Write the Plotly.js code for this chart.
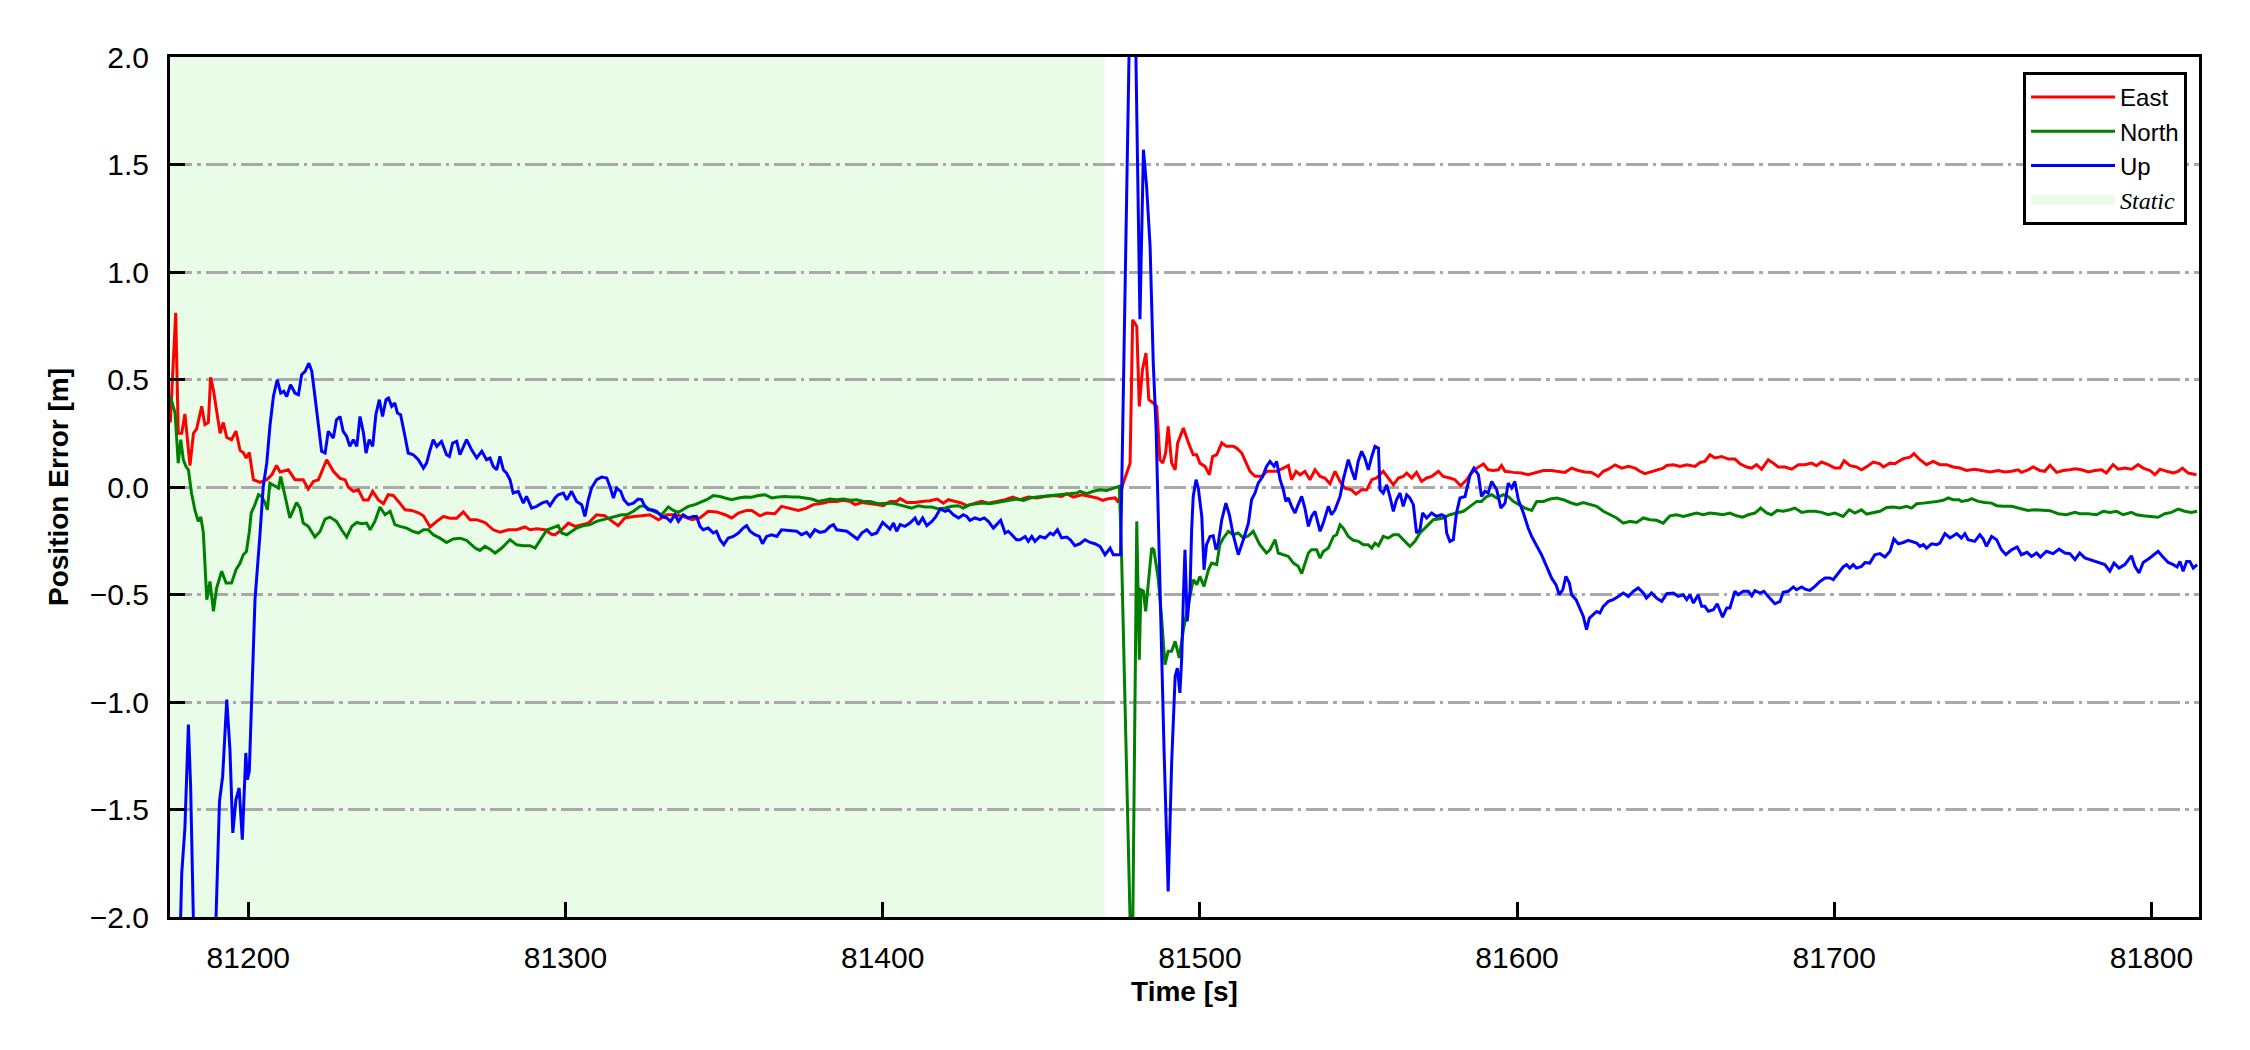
<!DOCTYPE html>
<html>
<head>
<meta charset="utf-8">
<script src="https://cdn.plot.ly/plotly-3.0.1.min.js"></script>
<style>html,body{margin:0;padding:0;background:#fff;}#chart{width:2250px;height:1050px;}</style>
</head>
<body>
<div id="chart"></div>
<script>
// ---------------- data ----------------
const seriesNames = ['East', 'North', 'Up'];
const staticLabel = 'Static';
const staticPeriod = [81170, 81470];

const xTickValues = [81200, 81300, 81400, 81500, 81600, 81700, 81800];
const xTickLabels = ['81200', '81300', '81400', '81500', '81600', '81700', '81800'];
const yTickValues = [-2.0, -1.5, -1.0, -0.5, 0.0, 0.5, 1.0, 1.5, 2.0];
const yTickLabels = ['\u22122.0', '\u22121.5', '\u22121.0', '\u22120.5', '0.0', '0.5', '1.0', '1.5', '2.0'];

const eastTime = [
81175.4, 81177.1, 81177.9, 81179.0, 81180.0, 81181.6, 81182.7, 81183.7, 81185.3, 81186.3,
81187.4, 81188.1, 81189.0, 81190.5, 81191.1, 81192.1, 81193.2, 81194.7, 81196.1, 81197.4,
81198.4, 81199.3, 81200.3, 81201.6, 81203.7, 81205.8, 81207.4, 81208.9, 81210.0, 81212.6,
81214.7, 81217.3, 81218.9, 81220.5, 81222.1, 81224.7, 81226.8, 81228.9, 81230.5, 81231.5,
81233.1, 81234.7, 81236.3, 81237.8, 81239.2, 81241.0, 81242.6, 81244.1, 81245.7, 81247.3,
81249.4, 81251.5, 81253.6, 81255.2, 81257.3, 81259.4, 81261.5, 81263.6, 81265.7, 81267.8,
81269.9, 81272.0, 81274.6, 81277.2, 81279.3, 81282.0, 81284.6, 81287.2, 81288.8, 81290.9,
81293.5, 81295.6,
81296.7, 81298.8, 81300.9, 81303.0, 81305.1, 81307.2, 81309.8, 81312.4, 81314.0, 81316.6,
81318.7, 81321.4, 81324.0, 81326.6, 81329.3, 81331.9, 81334.5, 81337.1, 81339.8, 81342.4,
81345.0, 81347.6, 81350.3, 81352.4, 81354.5, 81357.1, 81358.7, 81361.3, 81363.4, 81366.0,
81368.1, 81370.8, 81373.4, 81376.0, 81378.1, 81381.3,
81383.4, 81385.5, 81387.6, 81389.7, 81391.3, 81393.4, 81395.5, 81398.1, 81400.2, 81402.3,
81404.4, 81405.5, 81407.6, 81410.2, 81412.3, 81414.9, 81417.2, 81419.1, 81420.7, 81422.8,
81424.9, 81426.5, 81428.6, 81431.2, 81433.3, 81435.9, 81438.6, 81441.0, 81443.3, 81445.9,
81448.6, 81451.2, 81453.8, 81456.4, 81458.0, 81460.1, 81462.7, 81465.4, 81467.5, 81469.4,
81470.6, 81473.3, 81474.3,
81475.3, 81478.0, 81478.8, 81480.1, 81480.9, 81481.9, 81483.0, 81483.9, 81485.3, 81486.4,
81487.4, 81488.3, 81489.2, 81490.0, 81491.1, 81492.2, 81493.0, 81494.8, 81496.4, 81497.9,
81499.0, 81500.0, 81501.6, 81503.0, 81504.0, 81505.3, 81506.9, 81508.4, 81510.5, 81511.6,
81513.2, 81514.7, 81515.8, 81517.4, 81519.5, 81521.1,
81524.2, 81526.3, 81527.9, 81528.9, 81530.3, 81531.6, 81533.1, 81534.7, 81536.3, 81537.9,
81539.4, 81541.0, 81542.6, 81544.2, 81545.7, 81547.8, 81549.2, 81551.0, 81552.6, 81554.2,
81555.7, 81557.8, 81559.4, 81561.0, 81562.6, 81564.1, 81565.2, 81566.8, 81568.3, 81569.9,
81571.5, 81573.1, 81575.2, 81576.7, 81578.8, 81580.4, 81582.2, 81584.1, 81585.7, 81587.3,
81589.4, 81590.9, 81592.5, 81594.1, 81595.1, 81596.2, 81598.8, 81601.4, 81603.5, 81606.2,
81608.3, 81610.9, 81613.5, 81615.1, 81617.2, 81619.3, 81621.4, 81623.5, 81625.6, 81627.2,
81628.8, 81630.9, 81633.0, 81635.1, 81637.2, 81638.7, 81640.3, 81641.9, 81644.0, 81646.1,
81647.2, 81649.3, 81651.4, 81653.5,
81656.1, 81657.7, 81659.2, 81660.8, 81662.4, 81664.5, 81666.6, 81668.7, 81670.3, 81672.4,
81674.0, 81675.5, 81677.1, 81679.2, 81680.8, 81682.3, 81684.5, 81686.6, 81688.7, 81690.8,
81692.9, 81694.4, 81696.0, 81698.1, 81700.2, 81701.8, 81703.1, 81705.0, 81707.0, 81708.6,
81710.7, 81712.3, 81714.4, 81715.5, 81717.6, 81719.1, 81720.2, 81721.8, 81723.9, 81725.1,
81727.0, 81729.1, 81731.2, 81733.3,
81735.4, 81737.5, 81739.6, 81741.7, 81744.3, 81746.4, 81749.1, 81751.7, 81753.8, 81755.9,
81758.0, 81759.0, 81761.1, 81762.7, 81764.8, 81766.4, 81768.0, 81770.1, 81772.2, 81774.3,
81775.9, 81778.0, 81780.1, 81782.2, 81784.3, 81785.8, 81787.9, 81789.5, 81791.6, 81793.7,
81795.8, 81797.4, 81799.5, 81801.1, 81802.7, 81804.8, 81806.9, 81808.4, 81809.8, 81811.6,
81814.2
];
const eastError = [
0.30, 0.81, 0.25, 0.25, 0.34, 0.10, 0.25, 0.27, 0.375, 0.29,
0.30, 0.51, 0.45, 0.30, 0.25, 0.30, 0.23, 0.22, 0.26, 0.17,
0.16, 0.135, 0.16, 0.034, 0.021, 0.034, 0.057, 0.10, 0.07, 0.08,
0.034, 0.034, -0.01, 0.026, 0.034, 0.127, 0.073, 0.04, 0.034, 0.0,
-0.02, -0.013, -0.06, -0.06, -0.02, -0.06, -0.078, -0.036, -0.039, -0.067,
-0.106, -0.109, -0.12, -0.134, -0.186, -0.16, -0.137, -0.145, -0.145, -0.116,
-0.152, -0.152, -0.165, -0.199, -0.21, -0.199, -0.199, -0.186, -0.199, -0.194,
-0.199, -0.22,
-0.222, -0.199, -0.168, -0.183, -0.175, -0.168, -0.129, -0.134, -0.152, -0.18,
-0.144, -0.137, -0.134, -0.129, -0.152, -0.129, -0.129, -0.137, -0.152, -0.144,
-0.113, -0.116, -0.129, -0.144, -0.121, -0.109, -0.109, -0.134, -0.121, -0.124,
-0.09, -0.098, -0.109, -0.098, -0.082, -0.075,
-0.067, -0.067, -0.062, -0.067, -0.082, -0.072, -0.075, -0.082, -0.087, -0.067,
-0.067, -0.054, -0.072, -0.072, -0.067, -0.064, -0.056, -0.075, -0.059, -0.067,
-0.075, -0.087, -0.078, -0.067, -0.075, -0.067, -0.059, -0.047, -0.059, -0.047,
-0.051, -0.044, -0.04, -0.044, -0.031, -0.047, -0.036, -0.044, -0.051, -0.062,
-0.056, -0.051, -0.072,
-0.005, 0.11, 0.778, 0.747, 0.375, 0.546, 0.623, 0.406, 0.391, 0.375,
0.127, 0.111, 0.158, 0.282, 0.111, 0.08, 0.205, 0.274, 0.205, 0.15,
0.15, 0.111, 0.096, 0.057, 0.142, 0.15, 0.205, 0.189, 0.189, 0.181,
0.158, 0.111, 0.073, 0.05, 0.05, 0.073,
0.073, 0.088, 0.10, 0.034, 0.073, 0.057, 0.073, 0.034, 0.08, 0.049,
0.042, 0.015, 0.073, 0.026, -0.005, -0.013, -0.033, -0.013, -0.013, 0.034,
0.042, 0.073, 0.042, 0.01, 0.042, 0.049, 0.065, 0.042, 0.068, 0.026,
0.042, 0.049, 0.073, 0.049, 0.042, 0.034, 0.006, 0.034, 0.065, 0.088,
0.107, 0.08, 0.077, 0.08, 0.10, 0.073, 0.068, 0.065, 0.057, 0.068,
0.077, 0.077, 0.073, 0.068, 0.088, 0.077, 0.07, 0.068, 0.049, 0.073,
0.083, 0.103, 0.088, 0.096, 0.088, 0.073, 0.062, 0.07, 0.077, 0.088,
0.10, 0.103, 0.096, 0.103,
0.096, 0.114, 0.119, 0.15, 0.135, 0.142, 0.13, 0.13, 0.108, 0.093,
0.088, 0.104, 0.083, 0.127, 0.111, 0.093, 0.093, 0.083, 0.104, 0.104,
0.111, 0.099, 0.116, 0.104, 0.088, 0.088, 0.122, 0.099, 0.093, 0.08,
0.099, 0.116, 0.108, 0.093, 0.111, 0.108, 0.119, 0.132, 0.139, 0.155,
0.127, 0.104, 0.119, 0.104,
0.104, 0.093, 0.088, 0.077, 0.083, 0.077, 0.07, 0.077, 0.07, 0.073,
0.08, 0.068, 0.08, 0.093, 0.077, 0.073, 0.101, 0.068, 0.077, 0.08,
0.085, 0.08, 0.07, 0.077, 0.08, 0.065, 0.104, 0.083, 0.088, 0.083,
0.104, 0.088, 0.077, 0.057, 0.083, 0.073, 0.065, 0.073, 0.088, 0.065,
0.057
];

const northTime = [
81175.4, 81176.9, 81177.9, 81178.7, 81179.5, 81180.3, 81181.1, 81182.1, 81183.2, 81184.2,
81185.0, 81185.8, 81186.9, 81187.9, 81189.0, 81190.0, 81191.6, 81193.0, 81194.7, 81196.1,
81197.4, 81198.4, 81199.4, 81200.3, 81200.9, 81202.0, 81203.2,
81204.2, 81205.3, 81206.0, 81206.8, 81208.4, 81209.5, 81210.2, 81211.6, 81213.1, 81214.2,
81215.2, 81216.3, 81217.3, 81218.9, 81221.0, 81222.6, 81224.2, 81225.7, 81227.8, 81229.4,
81231.0, 81232.6, 81234.2, 81235.7, 81237.3, 81238.4, 81239.9, 81241.5, 81243.1, 81244.7,
81246.2, 81247.8, 81249.9, 81252.0, 81253.6, 81255.2, 81256.7, 81258.3, 81260.4, 81262.5,
81264.6, 81266.7, 81268.8, 81271.5, 81273.0, 81274.6, 81276.2, 81277.8, 81279.9, 81282.5,
81284.6, 81286.7, 81288.8, 81290.4, 81292.0, 81294.1,
81297.7, 81298.8, 81300.4, 81301.9, 81303.5, 81305.6, 81307.7, 81309.8, 81311.9, 81314.0,
81316.1, 81317.7, 81319.3, 81321.4, 81323.5, 81325.0, 81326.6, 81328.7, 81330.3, 81332.4,
81334.0, 81335.6, 81337.1, 81338.7, 81340.8, 81342.4, 81344.5, 81346.6, 81348.7, 81350.3,
81352.4, 81354.5, 81356.6, 81358.7, 81360.8, 81362.9, 81365.0, 81367.1, 81369.2, 81371.3,
81373.4, 81375.5, 81377.6, 81379.7, 81381.8,
81383.4, 81385.5, 81387.6, 81389.7, 81391.8, 81393.9, 81396.0, 81398.6, 81400.7, 81402.8,
81404.9, 81407.0, 81409.1, 81411.2, 81413.4, 81415.5, 81417.6, 81419.7, 81421.8, 81423.9,
81425.4, 81427.5, 81429.6, 81431.7, 81433.8, 81435.9, 81438.0, 81440.1, 81442.2, 81444.4,
81446.5, 81448.6, 81450.7, 81452.8, 81454.9, 81457.0, 81459.1, 81461.2, 81462.2, 81464.3,
81466.4, 81468.5, 81470.6, 81472.7, 81474.6,
81475.3, 81478.6, 81480.1, 81480.9, 81481.4, 81482.2, 81482.9, 81483.7, 81484.8, 81485.5,
81486.9, 81487.9, 81489.0, 81490.0, 81491.1, 81492.2, 81493.5, 81494.8, 81495.8, 81496.9,
81497.9, 81499.0, 81500.0, 81501.3, 81502.7, 81503.7, 81505.3, 81506.3, 81507.4, 81509.0,
81510.5, 81512.1, 81513.7, 81515.3, 81516.8, 81518.9, 81521.0,
81522.1, 81523.7, 81524.7, 81526.3, 81527.9, 81529.5, 81531.0, 81532.1, 81533.1, 81534.2,
81535.2, 81536.8, 81537.9, 81538.9, 81540.5, 81542.1, 81543.1, 81544.2, 81545.2, 81546.8,
81548.4, 81550.0, 81551.5, 81553.1, 81554.2, 81555.2, 81556.3, 81557.8, 81559.4, 81561.0,
81562.6, 81564.1, 81566.2, 81567.8, 81569.4, 81571.5, 81573.6, 81575.2, 81576.7, 81578.8,
81581.0, 81583.1, 81585.2, 81587.3, 81588.8, 81590.4, 81592.0, 81593.6, 81595.7, 81597.2,
81598.8, 81600.4, 81602.5, 81604.6, 81606.2, 81608.3, 81610.4, 81612.5, 81614.6, 81616.7,
81618.8, 81620.9, 81623.0, 81625.1, 81627.2, 81629.3, 81631.4, 81633.5, 81635.6, 81637.7,
81639.8, 81641.9, 81644.0, 81646.1, 81648.2, 81650.3, 81652.4,
81654.5, 81656.6, 81658.7, 81660.8, 81662.9, 81665.0, 81667.1, 81669.2, 81671.1, 81672.9,
81675.0, 81676.8, 81678.7, 81680.2, 81682.0, 81683.9, 81686.0, 81687.6, 81689.7, 81691.8,
81693.9, 81696.0, 81698.1, 81700.2, 81702.8, 81704.7, 81706.5, 81708.6, 81710.2, 81712.3,
81714.4, 81716.5, 81718.6, 81720.7, 81722.8, 81724.4, 81726.0, 81728.1, 81730.2, 81732.3,
81734.4, 81735.9, 81737.5, 81739.4,
81740.1, 81742.2, 81743.3, 81745.4, 81747.5, 81749.6, 81751.2, 81753.3, 81755.9, 81758.5,
81761.1, 81763.2, 81765.4, 81768.0, 81770.6, 81773.2, 81775.9, 81777.4, 81780.1, 81782.7,
81784.8, 81786.9, 81789.0, 81791.1, 81793.7, 81795.3, 81797.4, 81799.5, 81802.1, 81804.2,
81806.3, 81808.4, 81810.5, 81812.6, 81814.4
];
const northError = [
0.42, 0.344, 0.111, 0.22, 0.127, 0.096, 0.08, -0.03, -0.11, -0.16,
-0.14, -0.21, -0.524, -0.439, -0.578, -0.47, -0.392, -0.447, -0.447, -0.385,
-0.354, -0.315, -0.30, -0.21, -0.12, -0.085, -0.036,
-0.044, -0.075, -0.106, 0.018, 0.003, -0.005, 0.049, -0.044, -0.144, -0.106,
-0.072, -0.098, -0.168, -0.183, -0.233, -0.207, -0.149, -0.14, -0.16, -0.199,
-0.233, -0.183, -0.165, -0.171, -0.168, -0.199, -0.16, -0.093, -0.129, -0.113,
-0.175, -0.183, -0.191, -0.207, -0.214, -0.199, -0.199, -0.222, -0.238, -0.258,
-0.242, -0.238, -0.248, -0.284, -0.295, -0.276, -0.289, -0.307, -0.284, -0.245,
-0.269, -0.273, -0.273, -0.284, -0.245, -0.20,
-0.18, -0.214, -0.222, -0.206, -0.191, -0.18, -0.175, -0.16, -0.152, -0.144,
-0.137, -0.129, -0.129, -0.113, -0.09, -0.087, -0.106, -0.121, -0.129, -0.093,
-0.109, -0.118, -0.106, -0.09, -0.082, -0.072, -0.059, -0.04, -0.044, -0.051,
-0.059, -0.051, -0.047, -0.048, -0.04, -0.036, -0.051, -0.047, -0.044, -0.047,
-0.047, -0.051, -0.056, -0.067, -0.059,
-0.056, -0.059, -0.056, -0.062, -0.059, -0.067, -0.067, -0.078, -0.078, -0.075,
-0.082, -0.09, -0.098, -0.087, -0.093, -0.093, -0.102, -0.098, -0.09, -0.087,
-0.098, -0.082, -0.078, -0.075, -0.078, -0.072, -0.067, -0.059, -0.056, -0.062,
-0.051, -0.047, -0.044, -0.04, -0.036, -0.036, -0.031, -0.028, -0.02, -0.031,
-0.02, -0.013, -0.016, -0.005, 0.003,
-0.31, -2.4, -0.16, -0.803, -0.478, -0.485, -0.578, -0.447, -0.284, -0.292,
-0.431, -0.602, -0.826, -0.764, -0.764, -0.718, -0.795, -0.664, -0.586, -0.493,
-0.431, -0.454, -0.416, -0.462, -0.385, -0.354, -0.361, -0.268, -0.237, -0.206,
-0.222, -0.214, -0.237, -0.227, -0.206, -0.268, -0.307,
-0.292, -0.245, -0.307, -0.315, -0.323, -0.354, -0.369, -0.403, -0.354, -0.307,
-0.292, -0.292, -0.331, -0.30, -0.284, -0.23, -0.222, -0.176, -0.191, -0.23,
-0.248, -0.253, -0.269, -0.269, -0.284, -0.261, -0.273, -0.23, -0.238, -0.222,
-0.222, -0.245, -0.276, -0.253, -0.214, -0.183, -0.152, -0.149, -0.144, -0.129,
-0.121, -0.113, -0.09, -0.067, -0.067, -0.044, -0.036, -0.051, -0.036, -0.044,
-0.067, -0.082, -0.098, -0.109, -0.067, -0.067, -0.056, -0.051, -0.059, -0.072,
-0.082, -0.072, -0.082, -0.09, -0.113, -0.129, -0.144, -0.168, -0.16, -0.165,
-0.144, -0.152, -0.155, -0.168, -0.134, -0.129, -0.137,
-0.129, -0.121, -0.129, -0.121, -0.124, -0.129, -0.121, -0.134, -0.14, -0.129,
-0.121, -0.098, -0.121, -0.129, -0.109, -0.113, -0.106, -0.098, -0.118, -0.113,
-0.113, -0.118, -0.129, -0.121, -0.137, -0.106, -0.121, -0.106, -0.126, -0.121,
-0.113, -0.095, -0.093, -0.098, -0.09, -0.098, -0.078, -0.075, -0.072, -0.067,
-0.062, -0.051, -0.059, -0.059,
-0.067, -0.062, -0.054, -0.067, -0.072, -0.075, -0.087, -0.09, -0.09, -0.098,
-0.109, -0.106, -0.109, -0.11, -0.124, -0.129, -0.118, -0.124, -0.124, -0.129,
-0.113, -0.118, -0.113, -0.129, -0.118, -0.129, -0.134, -0.137, -0.141, -0.124,
-0.118, -0.103, -0.113, -0.118, -0.113
];

const upTime = [
81175.3, 81179.0, 81180.0, 81181.1, 81181.8, 81185.6, 81190.9, 81191.9, 81193.2, 81194.2,
81195.1, 81196.1, 81197.1, 81198.1, 81199.2, 81199.7, 81200.3, 81201.1, 81202.1, 81203.7,
81204.7, 81205.8, 81206.8, 81207.9, 81209.1, 81210.2, 81211.2, 81212.1, 81213.3, 81214.7,
81215.8, 81216.8, 81217.9, 81219.1, 81220.0, 81221.0, 81222.1, 81223.1, 81224.2, 81225.2,
81226.8, 81227.8, 81228.9, 81229.9, 81231.0, 81232.0, 81233.1, 81234.2, 81235.2, 81236.3,
81237.1, 81238.1, 81239.2, 81240.2, 81241.3, 81242.3, 81243.4, 81244.2, 81245.2, 81246.2,
81247.0, 81248.0, 81249.4, 81250.4, 81252.0, 81253.6, 81255.2, 81256.2, 81257.3, 81258.3,
81259.4, 81260.9, 81262.5, 81263.4, 81264.4, 81265.7, 81266.7, 81267.8, 81268.8, 81270.4,
81272.0, 81273.6, 81275.1, 81276.2, 81277.2, 81278.3, 81279.3, 81280.4, 81281.4, 81282.5,
81283.5, 81285.1, 81286.7, 81287.7, 81289.3, 81290.9, 81292.5, 81294.1, 81295.1, 81296.7,
81297.7, 81299.3, 81300.4, 81301.9, 81303.5, 81305.1, 81306.1, 81307.2, 81308.2, 81309.8,
81311.4, 81313.0, 81314.0, 81315.1, 81316.1, 81317.4, 81318.4, 81319.8, 81321.4, 81322.9,
81324.0, 81325.0, 81326.1, 81327.2, 81328.7, 81330.3, 81331.9, 81333.1, 81334.5, 81335.6,
81337.1, 81338.7, 81340.3, 81341.3, 81342.4, 81343.4, 81345.0, 81346.6, 81347.6, 81348.7,
81349.9, 81351.3, 81352.9, 81354.5, 81356.0, 81357.1, 81358.2, 81359.7, 81361.1, 81362.1,
81363.4, 81365.0, 81366.6, 81368.1, 81369.7, 81371.3, 81372.9, 81374.4, 81376.0, 81377.1,
81378.6, 81380.2, 81381.8,
81383.4, 81384.5, 81385.5, 81387.1, 81388.7, 81390.2, 81392.0, 81393.4, 81395.0, 81396.5,
81398.1, 81400.0, 81401.3, 81402.3, 81403.4, 81404.4, 81405.5, 81407.0, 81408.6, 81410.2,
81411.2, 81412.6, 81413.9, 81415.5, 81416.8, 81418.1, 81419.7, 81420.7, 81422.3, 81423.9,
81425.4, 81426.5, 81427.5, 81429.1, 81430.7, 81432.0, 81433.3, 81434.9, 81435.9, 81437.2,
81438.6, 81439.6, 81440.7, 81442.2, 81443.3, 81444.9, 81445.9, 81447.0, 81448.0, 81449.6,
81451.2, 81452.8, 81453.8, 81455.1, 81456.4, 81458.0, 81459.1, 81460.6, 81462.2, 81463.8,
81465.4, 81466.9, 81468.5, 81470.1, 81471.7, 81472.7, 81474.3,
81475.0, 81478.8, 81481.1, 81482.2, 81483.2, 81484.3, 81485.3, 81486.2, 81487.4, 81488.7,
81490.0, 81491.1, 81492.2, 81492.9, 81493.7, 81494.3, 81494.8, 81495.3, 81496.0, 81496.9,
81497.4, 81497.9, 81498.8, 81499.5, 81500.6, 81501.3, 81502.1, 81503.2, 81504.2, 81505.1,
81505.8, 81506.9, 81508.2, 81509.3, 81510.5, 81512.1, 81513.7, 81515.3, 81516.3, 81517.4,
81518.4, 81519.8, 81521.0, 81522.1, 81523.4, 81524.2,
81525.3, 81526.3, 81527.1, 81527.9, 81528.9, 81530.0, 81531.0, 81532.1, 81533.1, 81534.2,
81535.2, 81536.3, 81537.9, 81538.9, 81540.5, 81541.5, 81542.6, 81544.2, 81545.2, 81546.8,
81547.8, 81548.9, 81549.9, 81551.0, 81552.0, 81553.1, 81554.2, 81555.2, 81556.3, 81556.8,
81557.8, 81558.9, 81559.9, 81561.0, 81562.0, 81563.1, 81564.1, 81565.2, 81566.2, 81567.3,
81568.3, 81569.4, 81570.2, 81571.5, 81573.1, 81574.6, 81576.2, 81577.3, 81577.8, 81578.8,
81579.9, 81580.9, 81582.0, 81583.6, 81585.2, 81586.4, 81587.8, 81588.8, 81589.9, 81590.9,
81592.0, 81593.6, 81594.9, 81596.2, 81597.2, 81598.3, 81599.3, 81600.4, 81602.0, 81603.5,
81604.6, 81606.2, 81607.7, 81609.3, 81610.9, 81612.3, 81613.3, 81614.4, 81615.4, 81616.5,
81617.2, 81618.6, 81619.8, 81620.9, 81621.9, 81622.8, 81624.0, 81625.1, 81626.1, 81627.2,
81628.8, 81630.3, 81631.9, 81633.5, 81635.1, 81636.6, 81638.2, 81639.8, 81640.8, 81642.4,
81644.0, 81645.6, 81647.2, 81649.3, 81650.8, 81652.4, 81653.5, 81654.5, 81655.6, 81657.1,
81658.2, 81659.2, 81660.3, 81661.9, 81663.1, 81664.0, 81664.8, 81666.1, 81667.1, 81668.7,
81669.7, 81671.3, 81672.9, 81674.0, 81675.0, 81676.6, 81677.8, 81679.2, 81680.2, 81681.3,
81682.9, 81683.9, 81685.5, 81687.1, 81688.1, 81689.7, 81690.8, 81692.3, 81693.9, 81695.5,
81697.1, 81698.6, 81699.7, 81701.3, 81702.8, 81703.9, 81704.9, 81706.0, 81707.0, 81708.6,
81709.7, 81711.2, 81712.8, 81714.4, 81716.0, 81717.6, 81718.8, 81720.2, 81721.8, 81723.3,
81724.4, 81726.0, 81727.0, 81728.1, 81729.1, 81730.7, 81732.3, 81733.3,
81734.9, 81736.5, 81738.6, 81740.1, 81741.2, 81742.2, 81744.3, 81745.9, 81747.0, 81748.0,
81749.6, 81751.2, 81752.7, 81754.1, 81755.9, 81757.7, 81759.0, 81760.8, 81762.2, 81763.8,
81765.0, 81766.9, 81769.0, 81770.9, 81772.7, 81774.3, 81775.9, 81777.4, 81779.0, 81780.6,
81782.2, 81783.7, 81785.3, 81786.9, 81788.2, 81789.8, 81791.6, 81793.7, 81794.8, 81796.1,
81797.4, 81799.5, 81802.1, 81803.5, 81805.3, 81806.9, 81808.1, 81809.0, 81810.0, 81811.1,
81812.1, 81813.2, 81814.4
];
const upError = [
-4.0, -1.796, -1.586, -1.105, -1.392, -4.1, -1.462, -1.346, -0.989, -1.222,
-1.609, -1.454, -1.40, -1.64, -1.237, -1.361, -1.322, -0.989, -0.524, -0.214,
0.003, 0.111, 0.282, 0.421, 0.499, 0.437, 0.445, 0.421, 0.476, 0.437,
0.429, 0.522, 0.538, 0.576, 0.538, 0.421, 0.297, 0.166, 0.158, 0.259,
0.228, 0.313, 0.328, 0.259, 0.235, 0.189, 0.22, 0.189, 0.328, 0.251,
0.158, 0.22, 0.189, 0.336, 0.406, 0.328, 0.406, 0.414, 0.375, 0.39,
0.344, 0.336, 0.235, 0.158, 0.15, 0.127, 0.088, 0.111, 0.173, 0.22,
0.189, 0.212, 0.15, 0.142, 0.204, 0.212, 0.15, 0.189, 0.22, 0.173,
0.135, 0.166, 0.127, 0.135, 0.096, 0.08, 0.142, 0.08, 0.065, 0.034,
-0.028, -0.02, -0.075, -0.044, -0.098, -0.09, -0.075, -0.067, -0.087, -0.051,
-0.036, -0.028, -0.059, -0.02, -0.067, -0.082, -0.137, -0.059, -0.005, 0.034,
0.046, 0.042, 0.003, -0.051, -0.005, -0.02, -0.059, -0.082, -0.075, -0.056,
-0.059, -0.09, -0.106, -0.106, -0.113, -0.137, -0.144, -0.16, -0.129, -0.16,
-0.129, -0.144, -0.137, -0.137, -0.183, -0.199, -0.191, -0.214, -0.206, -0.245,
-0.268, -0.237, -0.23, -0.214, -0.191, -0.18, -0.206, -0.222, -0.23, -0.264,
-0.23, -0.222, -0.23, -0.199, -0.202, -0.206, -0.206, -0.222, -0.211, -0.23,
-0.199, -0.211, -0.206,
-0.183, -0.175, -0.199, -0.202, -0.206, -0.222, -0.242, -0.214, -0.199, -0.222,
-0.214, -0.165, -0.183, -0.196, -0.168, -0.206, -0.175, -0.183, -0.168, -0.144,
-0.175, -0.144, -0.18, -0.16, -0.137, -0.102, -0.113, -0.106, -0.129, -0.144,
-0.129, -0.137, -0.155, -0.144, -0.152, -0.144, -0.16, -0.191, -0.175, -0.155,
-0.214, -0.206, -0.222, -0.245, -0.245, -0.23, -0.253, -0.23, -0.253, -0.23,
-0.237, -0.214, -0.222, -0.199, -0.237, -0.233, -0.245, -0.273, -0.264, -0.245,
-0.258, -0.264, -0.276, -0.315, -0.284, -0.315, -0.315,
-0.315, 3.0, 0.78, 1.569, 1.398, 1.12, 0.577, 0.27, -0.509, -1.222,
-1.881, -1.284, -0.881, -0.842, -0.958, -0.788, -0.509, -0.292, -0.625, -0.478,
-0.199, -0.044, 0.034, -0.005, -0.137, -0.385, -0.268, -0.23, -0.227, -0.292,
-0.261, -0.152, -0.075, -0.129, -0.222, -0.315, -0.245, -0.168, -0.059, -0.028,
0.018, 0.049, 0.096, 0.119, 0.096, 0.119,
0.034, -0.012, -0.067, -0.051, -0.09, -0.121, -0.082, -0.044, -0.098, -0.183,
-0.137, -0.113, -0.206, -0.168, -0.09, -0.129, -0.106, -0.044, 0.034, 0.127,
0.08, 0.034, 0.119, 0.166, 0.135, 0.08, 0.142, 0.189, 0.181, -0.013,
-0.028, 0.01, -0.044, -0.113, -0.059, -0.028, -0.09, -0.036, -0.051, -0.082,
-0.214, -0.199, -0.121, -0.144, -0.121, -0.137, -0.129, -0.137, -0.214, -0.253,
-0.245, -0.121, -0.051, -0.044, 0.057, 0.088, 0.057, -0.044, -0.02, -0.028,
0.026, -0.013, -0.098, -0.075, 0.018, -0.005, 0.026, -0.059, -0.121, -0.191,
-0.23, -0.276, -0.315, -0.369, -0.424, -0.455, -0.501, -0.478, -0.416, -0.447,
-0.501, -0.524, -0.563, -0.602, -0.664, -0.61, -0.594, -0.579, -0.586, -0.555,
-0.532, -0.524, -0.509, -0.493, -0.509, -0.486, -0.47, -0.493, -0.517, -0.493,
-0.517, -0.532, -0.496, -0.493, -0.509, -0.501, -0.524, -0.501, -0.54, -0.501,
-0.555, -0.555, -0.578, -0.571, -0.543, -0.578, -0.605, -0.563, -0.563, -0.485,
-0.501, -0.485, -0.485, -0.506, -0.482, -0.493, -0.485, -0.509, -0.524, -0.543,
-0.532, -0.49, -0.485, -0.465, -0.478, -0.465, -0.475, -0.481, -0.462, -0.439,
-0.423, -0.423, -0.431, -0.40, -0.372, -0.361, -0.377, -0.361, -0.377, -0.369,
-0.351, -0.354, -0.315, -0.31, -0.326, -0.299, -0.242, -0.264, -0.258, -0.248,
-0.253, -0.261, -0.276, -0.268, -0.284, -0.264, -0.268, -0.261,
-0.217, -0.237, -0.217, -0.237, -0.217, -0.245, -0.253, -0.222, -0.242, -0.276,
-0.23, -0.245, -0.292, -0.315, -0.292, -0.279, -0.315, -0.304, -0.323, -0.307,
-0.326, -0.299, -0.31, -0.289, -0.307, -0.31, -0.338, -0.307, -0.33, -0.338,
-0.346, -0.354, -0.361, -0.392, -0.354, -0.377, -0.361, -0.32, -0.369, -0.40,
-0.351, -0.33, -0.299, -0.323, -0.351, -0.361, -0.372, -0.346, -0.392, -0.346,
-0.346, -0.377, -0.361
];

const seriesColors = ['#ff0000', '#008000', '#0000ff'];
const staticColor = '#e8fce8';

// ---------------- chart ----------------
const FONT = 'Liberation Sans, Arial, sans-serif';
const seriesX = [eastTime, northTime, upTime];
const seriesY = [eastError, northError, upError];

const traces = seriesNames.map((name, i) => ({
  type: 'scatter',
  mode: 'lines',
  name: name,
  x: seriesX[i],
  y: seriesY[i],
  line: {color: seriesColors[i], width: 3},
  legendrank: i + 1,
  hoverinfo: 'skip'
}));

// legend entry for the static period (the period itself is drawn as a shape below)
traces.push({
  type: 'scatter',
  mode: 'lines',
  name: '<span style="font-family:Liberation Serif;font-style:italic">' + staticLabel + '</span>',
  x: [null],
  y: [null],
  line: {color: staticColor, width: 18},
  legendrank: 4,
  hoverinfo: 'skip'
});

const layout = {
  width: 2250,
  height: 1050,
  margin: {l: 170, r: 51, t: 57, b: 133, pad: 0},
  paper_bgcolor: '#ffffff',
  plot_bgcolor: '#ffffff',
  font: {family: FONT, color: '#000000', size: 30},
  showlegend: true,
  xaxis: {
    range: [81175.3, 81815],
    tickmode: 'array',
    tickvals: xTickValues,
    ticktext: xTickLabels,
    ticks: 'inside',
    ticklen: 15,
    tickwidth: 3,
    tickcolor: '#000000',
    ticklabelstandoff: 12,
    showline: true,
    linecolor: '#000000',
    linewidth: 3,
    mirror: true,
    showgrid: false,
    zeroline: false,
    tickfont: {family: FONT, size: 30, color: '#000000'},
    title: {text: 'Time [s]', font: {family: FONT, size: 28, color: '#000000', weight: 'bold'}, standoff: 9}
  },
  yaxis: {
    range: [-2, 2],
    tickmode: 'array',
    tickvals: yTickValues,
    ticktext: yTickLabels,
    ticks: 'inside',
    ticklen: 15,
    tickwidth: 3,
    tickcolor: '#000000',
    ticklabelstandoff: 12,
    showline: true,
    linecolor: '#000000',
    linewidth: 3,
    mirror: true,
    showgrid: true,
    gridcolor: '#a9a9a9',
    gridwidth: 3,
    griddash: '22px,5px,3.5px,5px',
    zeroline: false,
    tickfont: {family: FONT, size: 30, color: '#000000'},
    title: {text: 'Position Error [m]', font: {family: FONT, size: 28, color: '#000000', weight: 'bold'}, standoff: 13}
  },
  shapes: [{
    type: 'rect',
    xref: 'x', yref: 'paper',
    x0: staticPeriod[0], x1: staticPeriod[1],
    y0: 0, y1: 1,
    fillcolor: staticColor,
    line: {width: 0},
    layer: 'below'
  }],
  legend: {
    x: 0.9941, xanchor: 'right',
    y: 0.9826, yanchor: 'top',
    bgcolor: '#ffffff',
    bordercolor: '#000000',
    borderwidth: 3,
    font: {family: FONT, size: 24, color: '#000000'},
    itemwidth: 84,
    tracegroupgap: 0
  },
  hovermode: false
};

Plotly.newPlot('chart', traces, layout, {displayModeBar: false, staticPlot: true});
</script>
</body>
</html>
